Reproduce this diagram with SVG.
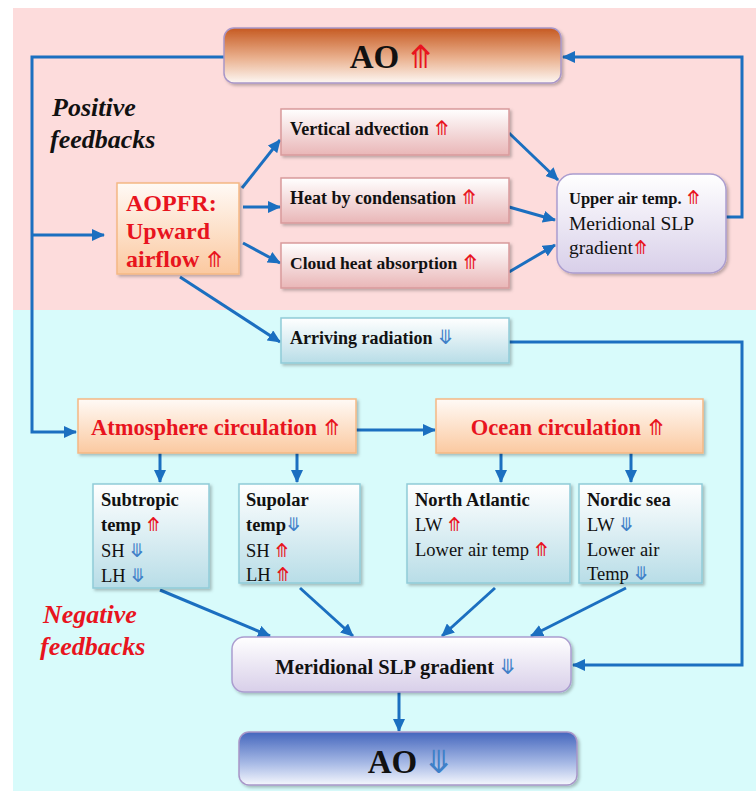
<svg xmlns="http://www.w3.org/2000/svg" width="756" height="791" viewBox="0 0 756 791">
<defs>
<linearGradient id="gAoTop" x1="0" y1="0" x2="0" y2="1"><stop offset="0" stop-color="#c65a22"/><stop offset="0.55" stop-color="#eab18f"/><stop offset="1" stop-color="#fdf7f3"/></linearGradient>
<linearGradient id="gAoBot" x1="0" y1="0" x2="0" y2="1"><stop offset="0" stop-color="#4466bd"/><stop offset="0.6" stop-color="#a9bbe6"/><stop offset="1" stop-color="#f5f7fd"/></linearGradient>
<linearGradient id="gPink" x1="0" y1="0" x2="0" y2="1"><stop offset="0" stop-color="#ffffff"/><stop offset="1" stop-color="#e9b6b7"/></linearGradient>
<linearGradient id="gOrange" x1="0" y1="0" x2="0" y2="1"><stop offset="0" stop-color="#fffaf6"/><stop offset="1" stop-color="#fbc9a0"/></linearGradient>
<linearGradient id="gLav" x1="0" y1="0" x2="0" y2="1"><stop offset="0" stop-color="#ffffff"/><stop offset="1" stop-color="#d8cfe9"/></linearGradient>
<linearGradient id="gBlue" x1="0" y1="0" x2="0" y2="1"><stop offset="0" stop-color="#ffffff"/><stop offset="1" stop-color="#b8dde7"/></linearGradient>
<filter id="sh" x="-10%" y="-10%" width="130%" height="140%"><feDropShadow dx="2" dy="2" stdDeviation="1.5" flood-color="#000" flood-opacity="0.25"/></filter>
<marker id="ah" markerUnits="userSpaceOnUse" markerWidth="13" markerHeight="12" viewBox="0 0 13 12" refX="12" refY="6" orient="auto"><path d="M0,0 L13,6 L0,12 z" fill="#1b6fc0"/></marker>
</defs>
<style>
.bg-pink{fill:#fddcdc}
.bg-cyan{fill:#d8fbfb}
.conn{fill:none;stroke:#1b6fc0;stroke-width:3;marker-end:url(#ah)}
text{font-family:"Liberation Serif","Times New Roman",serif;fill:#111}
.b{font-weight:bold}
.up{font-family:"DejaVu Sans",sans-serif;fill:#e8141e;font-weight:normal}
.dn{font-family:"DejaVu Sans",sans-serif;fill:#3f80c8;font-weight:normal}
.red{fill:#e8141e}
.pinkbox{fill:url(#gPink);stroke:#d99a9c;stroke-width:1.5;filter:url(#sh)}
.orbox{fill:url(#gOrange);stroke:#f5b884;stroke-width:1.5;filter:url(#sh)}
.lavbox{fill:url(#gLav);stroke:#ab9dcf;stroke-width:1.5;filter:url(#sh)}
.bluebox{fill:url(#gBlue);stroke:#90cbd8;stroke-width:1.5;filter:url(#sh)}
</style>
<rect x="0" y="0" width="756" height="791" fill="#ffffff"/>
<rect class="bg-pink" x="13" y="8" width="743" height="302"/>
<rect class="bg-cyan" x="13" y="310" width="743" height="481"/>

<g id="labels">
<text class="b" x="52" y="116" font-size="26" font-style="italic">Positive</text>
<text class="b" x="50" y="148" font-size="26" font-style="italic">feedbacks</text>
<text class="b red" x="43" y="623" font-size="26" font-style="italic">Negative</text>
<text class="b red" x="40" y="655" font-size="26" font-style="italic">feedbacks</text>
</g>

<g id="connectors">
<path class="conn" d="M224,57 H32 V432 H76"/>
<path class="conn" d="M32,235 H104"/>
<path class="conn" d="M242,188 L280,140"/>
<path class="conn" d="M243,207 H280"/>
<path class="conn" d="M243,243 L280,263"/>
<path class="conn" d="M180,277 L280,342"/>
<path class="conn" d="M509,133 L558,180"/>
<path class="conn" d="M509,207 L555,220"/>
<path class="conn" d="M509,272 L555,245"/>
<path class="conn" d="M726,217 H742 V57 H563"/>
<path class="conn" d="M509,342 H742 V665 H573"/>
<path class="conn" d="M356,430 H435"/>
<path class="conn" d="M160,453 V482"/>
<path class="conn" d="M297,453 V482"/>
<path class="conn" d="M501,453 V482"/>
<path class="conn" d="M631,453 V482"/>
<path class="conn" d="M160,590 L270,636"/>
<path class="conn" d="M300,588 L353,636"/>
<path class="conn" d="M495,588 L442,636"/>
<path class="conn" d="M626,588 L531,636"/>
<path class="conn" d="M399,692 V731"/>
</g>

<g id="ao_top">
<rect x="224" y="28" width="337" height="55" rx="10" fill="url(#gAoTop)" stroke="#a896c8" stroke-width="1.5" filter="url(#sh)"/>
<text class="b" x="392" y="68" font-size="33" text-anchor="middle">AO <tspan class="up" font-size="32">⤊</tspan></text>
</g>

<g id="aopfr">
<rect class="orbox" x="117" y="183" width="122" height="91"/>
<text class="b red" x="126" y="211" font-size="24">AOPFR:</text>
<text class="b red" x="126" y="239" font-size="24">Upward</text>
<text class="b red" x="126" y="267" font-size="24">airflow <tspan class="up" font-size="22">⤊</tspan></text>
</g>

<g id="vertical_advection">
<rect class="pinkbox" x="281" y="109" width="228" height="46"/>
<text class="b" x="290" y="135" font-size="18">Vertical advection <tspan class="up" font-size="20">⤊</tspan></text>
</g>

<g id="heat_condensation">
<rect class="pinkbox" x="281" y="178" width="228" height="45"/>
<text class="b" x="290" y="204" font-size="18">Heat by condensation <tspan class="up" font-size="20">⤊</tspan></text>
</g>

<g id="cloud_heat">
<rect class="pinkbox" x="281" y="243" width="228" height="45"/>
<text class="b" x="290" y="269" font-size="17.5">Cloud heat absorption <tspan class="up" font-size="20">⤊</tspan></text>
</g>

<g id="upper_air">
<rect class="lavbox" x="557" y="174" width="169" height="99" rx="16"/>
<text class="b" x="569" y="204" font-size="16.5">Upper air temp. <tspan class="up" font-size="19">⤊</tspan></text>
<text x="569" y="230" font-size="19.5">Meridional SLP</text>
<text x="569" y="254" font-size="19.5">gradient<tspan class="up" font-size="19">⤊</tspan></text>
</g>

<g id="arriving_radiation">
<rect class="bluebox" x="281" y="318" width="228" height="45"/>
<text class="b" x="290" y="344" font-size="18">Arriving radiation <tspan class="dn" font-size="20">⤋</tspan></text>
</g>

<g id="atmosphere_circulation">
<rect class="orbox" x="78" y="399" width="278" height="54"/>
<text class="b red" x="216" y="435" font-size="22.5" text-anchor="middle">Atmosphere circulation <tspan class="up" font-size="22">⤊</tspan></text>
</g>

<g id="ocean_circulation">
<rect class="orbox" x="436" y="399" width="267" height="54"/>
<text class="b red" x="568" y="435" font-size="22.5" text-anchor="middle">Ocean circulation <tspan class="up" font-size="22">⤊</tspan></text>
</g>

<g id="subtropic">
<rect class="bluebox" x="93" y="484" width="116" height="104"/>
<text class="b" x="101" y="506" font-size="18.5">Subtropic</text>
<text class="b" x="101" y="531" font-size="18.5">temp <tspan class="up" font-size="19">⤊</tspan></text>
<text x="101" y="557" font-size="18.5">SH <tspan class="dn" font-size="19">⤋</tspan></text>
<text x="101" y="582" font-size="18.5">LH <tspan class="dn" font-size="19">⤋</tspan></text>
</g>

<g id="supolar">
<rect class="bluebox" x="239" y="484" width="121" height="99"/>
<text class="b" x="246" y="506" font-size="18.5">Supolar</text>
<text class="b" x="246" y="531" font-size="18.5">temp<tspan class="dn" font-size="19">⤋</tspan></text>
<text x="246" y="557" font-size="18.5">SH <tspan class="up" font-size="19">⤊</tspan></text>
<text x="246" y="581" font-size="18.5">LH <tspan class="up" font-size="19">⤊</tspan></text>
</g>

<g id="north_atlantic">
<rect class="bluebox" x="407" y="484" width="163" height="99"/>
<text class="b" x="415" y="506" font-size="18.5">North Atlantic</text>
<text x="415" y="531" font-size="18.5">LW <tspan class="up" font-size="19">⤊</tspan></text>
<text x="415" y="556" font-size="18.5">Lower air temp <tspan class="up" font-size="19">⤊</tspan></text>
</g>

<g id="nordic_sea">
<rect class="bluebox" x="579" y="484" width="123" height="99"/>
<text class="b" x="587" y="506" font-size="18.5">Nordic sea</text>
<text x="587" y="531" font-size="18.5">LW <tspan class="dn" font-size="19">⤋</tspan></text>
<text x="587" y="556" font-size="18.5">Lower air</text>
<text x="587" y="580" font-size="18.5">Temp <tspan class="dn" font-size="19">⤋</tspan></text>
</g>

<g id="meridional_slp">
<rect class="lavbox" x="232" y="637" width="339" height="55" rx="12"/>
<text class="b" x="396" y="674" font-size="20.5" text-anchor="middle">Meridional SLP gradient <tspan class="dn" font-size="21">⤋</tspan></text>
</g>

<g id="ao_bottom">
<rect x="239" y="732" width="338" height="53" rx="10" fill="url(#gAoBot)" stroke="#a896c8" stroke-width="1.5" filter="url(#sh)"/>
<text class="b" x="410" y="773" font-size="33" text-anchor="middle">AO <tspan class="dn" font-size="32">⤋</tspan></text>
</g>
</svg>
